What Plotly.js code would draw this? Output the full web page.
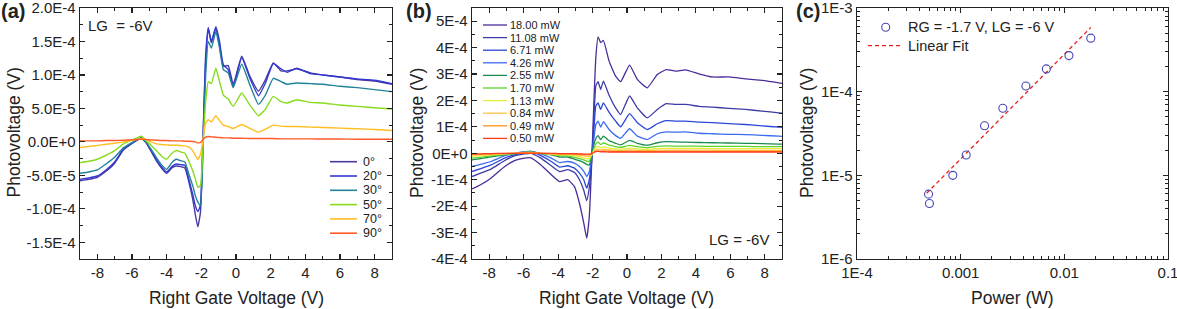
<!DOCTYPE html>
<html><head><meta charset="utf-8">
<script src="https://cdn.plot.ly/plotly-3.0.1.min.js"></script>
<style>html,body{margin:0;padding:0;background:#fff}#chart{width:1177px;height:309px}</style>
</head><body><div id="chart"></div>
<script>
// ---------------- DATA ----------------
// Panel (a): photovoltage vs right gate voltage for polarization angles (values in 1e-5 V)
const gateA = [-9, -8.5, -8, -7.5, -7, -6.5, -6, -5.7, -5.45, -5.2, -4.9, -4.6, -4.3, -4.0, -3.7, -3.45, -3.2, -2.95, -2.7, -2.5, -2.35, -2.2, -2.05, -1.95, -1.85, -1.75, -1.6, -1.42, -1.16, -0.95, -0.73, -0.45, -0.16, 0.33, 0.8, 1.3, 1.7, 2.15, 2.6, 2.95, 3.5, 4.3, 5, 6, 7, 8, 9];
const angleLabels = ['0°', '20°', '30°', '50°', '70°', '90°'];
const pv0deg  = [-5.8, -5.6, -5.3, -4.4, -3.2, -1.2, -0.25, 0.25, 0.5, -0.1, -1.4, -2.8, -3.9, -4.7, -3.9, -3.6, -3.7, -3.9, -6.2, -8.5, -10.8, -12.7, -10.5, -3, 5, 12, 16.8, 14.8, 17.0, 14.5, 11.3, 11.4, 8.6, 12.8, 9.8, 7.6, 9.3, 11.8, 10.6, 10.6, 10.9, 10.3, 10.0, 9.7, 9.3, 9.1, 8.6];
const pv20deg = [-5.6, -5.4, -5.1, -4.2, -3.0, -1.1, -0.2, 0.3, 0.6, 0.0, -1.3, -2.6, -3.7, -4.5, -3.7, -3.3, -3.4, -3.5, -5.8, -7.8, -9.5, -10.4, -9.5, -4, 5, 13, 17.1, 15.0, 17.2, 15.0, 11.5, 10.8, 8.2, 12.6, 9.5, 6.9, 8.8, 11.7, 10.9, 10.4, 11.0, 10.2, 10.0, 9.7, 9.4, 9.2, 8.7];
const pv30deg = [-4.7, -4.5, -4.2, -3.3, -2.3, -0.9, -0.1, 0.35, 0.65, 0.0, -1.1, -2.3, -3.4, -4.1, -3.1, -2.6, -2.8, -3.0, -5.0, -6.5, -8.0, -9.0, -9.5, -5, 3, 10, 15.0, 14.0, 16.5, 14.0, 10.8, 10.3, 8.1, 11.6, 8.5, 5.6, 7.0, 9.5, 9.0, 8.6, 8.8, 8.7, 8.6, 8.3, 8.1, 7.8, 7.5];
const pv50deg = [-3.1, -2.9, -2.6, -2.0, -1.3, -0.3, 0.3, 0.6, 0.85, 0.2, -0.5, -1.3, -2.1, -2.6, -1.7, -1.3, -1.5, -1.7, -3.0, -4.3, -5.5, -6.8, -6.5, -3, 2, 6, 9.0, 8.7, 11.0, 9.0, 7.0, 6.4, 5.3, 7.3, 5.5, 3.9, 4.9, 6.8, 6.0, 5.8, 6.3, 5.9, 5.8, 5.5, 5.3, 5.1, 4.9];
const pv70deg = [-0.84, -0.7, -0.55, -0.35, -0.2, 0.0, 0.25, 0.4, 0.5, 0.35, 0.0, -0.3, -0.4, -0.45, -0.5, -0.5, -0.55, -0.6, -0.8, -1.3, -2.0, -2.6, -1.8, -0.5, 1.5, 2.8, 3.3, 3.0, 3.9, 3.2, 2.5, 2.3, 2.0, 2.6, 2.0, 1.45, 1.9, 2.5, 2.35, 2.3, 2.3, 2.2, 2.15, 2.05, 1.95, 1.85, 1.7];
const pv90deg = [0.15, 0.15, 0.15, 0.2, 0.2, 0.25, 0.3, 0.35, 0.4, 0.35, 0.3, 0.25, 0.2, 0.2, 0.15, 0.15, 0.15, 0.1, 0.1, 0.05, 0.0, -0.15, -0.1, 0.2, 0.5, 0.7, 0.8, 0.75, 0.7, 0.65, 0.6, 0.6, 0.55, 0.55, 0.5, 0.5, 0.5, 0.5, 0.45, 0.45, 0.45, 0.45, 0.42, 0.42, 0.4, 0.4, 0.4];
const unitA = 1e-5;

// Panel (b): photovoltage vs right gate voltage for laser powers (values in 1e-4 V)
const gateB = [-9, -8.5, -7.9, -7.1, -6.5, -5.95, -5.57, -5.0, -4.4, -3.92, -3.44, -3.05, -2.76, -2.51, -2.34, -2.19, -2.05, -1.93, -1.81, -1.68, -1.53, -1.37, -1.04, -0.66, -0.37, 0.15, 0.6, 1.18, 1.76, 2.28, 2.82, 3.4, 4.17, 4.95, 5.91, 6.88, 7.84, 8.81, 9];
const powerLabels = ['18.00 mW', '11.08 mW', '6.71 mW', '4.26 mW', '2.55 mW', '1.70 mW', '1.13 mW', '0.84 mW', '0.49 mW', '0.50 mW'];
const pv18_00 = [-1.35, -1.19, -0.94, -0.5, -0.27, -0.18, -0.17, -0.44, -0.81, -1.07, -1.0, -1.26, -1.89, -2.64, -3.21, -2.4, -0.37, 1.8, 3.62, 4.41, 4.19, 4.27, 3.49, 2.92, 2.71, 3.34, 2.8, 2.48, 2.98, 3.17, 3.11, 3.16, 3.01, 2.89, 2.89, 2.82, 2.76, 2.67, 2.65];
const pv11_08 = [-0.88, -0.75, -0.6, -0.27, -0.09, -0.02, 0.0, -0.18, -0.47, -0.69, -0.62, -0.73, -1.0, -1.4, -1.79, -1.3, -0.3, 1.2, 2.55, 2.71, 2.42, 2.73, 2.2, 1.72, 1.47, 2.17, 1.72, 1.34, 1.66, 1.88, 1.85, 1.85, 1.78, 1.75, 1.7, 1.66, 1.6, 1.53, 1.52];
const pv6_71  = [-0.69, -0.58, -0.44, -0.18, -0.05, 0.04, 0.07, -0.09, -0.31, -0.52, -0.47, -0.56, -0.75, -1.0, -1.32, -1.0, -0.2, 0.8, 1.79, 1.91, 1.66, 1.91, 1.55, 1.22, 1.0, 1.5, 1.16, 0.9, 1.12, 1.24, 1.22, 1.22, 1.18, 1.16, 1.12, 1.09, 1.04, 0.99, 0.98];
const pv4_26  = [-0.5, -0.42, -0.31, -0.09, 0.0, 0.06, 0.07, -0.02, -0.18, -0.35, -0.31, -0.37, -0.5, -0.68, -0.88, -0.7, -0.15, 0.5, 1.09, 1.22, 0.99, 1.2, 0.9, 0.67, 0.57, 0.93, 0.65, 0.52, 0.74, 0.81, 0.8, 0.81, 0.76, 0.74, 0.72, 0.71, 0.68, 0.65, 0.64];
const pv2_55  = [-0.25, -0.2, -0.13, -0.06, -0.02, 0.03, 0.04, 0.0, -0.06, -0.14, -0.14, -0.22, -0.28, -0.35, -0.42, -0.44, -0.1, 0.3, 0.56, 0.67, 0.52, 0.65, 0.48, 0.38, 0.32, 0.49, 0.38, 0.31, 0.4, 0.44, 0.43, 0.42, 0.41, 0.4, 0.39, 0.38, 0.37, 0.35, 0.35];
const pv1_70  = [-0.18, -0.15, -0.1, -0.04, -0.01, 0.03, 0.04, 0.0, -0.04, -0.09, -0.1, -0.15, -0.2, -0.25, -0.3, -0.3, -0.08, 0.15, 0.36, 0.42, 0.33, 0.39, 0.31, 0.25, 0.22, 0.3, 0.25, 0.21, 0.26, 0.28, 0.27, 0.27, 0.27, 0.26, 0.26, 0.26, 0.25, 0.25, 0.25];
const pv1_13  = [-0.11, -0.09, -0.06, -0.02, 0.0, 0.03, 0.03, 0.0, -0.03, -0.06, -0.06, -0.09, -0.13, -0.17, -0.2, -0.2, -0.05, 0.1, 0.22, 0.26, 0.21, 0.24, 0.2, 0.17, 0.15, 0.2, 0.17, 0.15, 0.18, 0.19, 0.19, 0.19, 0.19, 0.18, 0.18, 0.18, 0.18, 0.18, 0.18];
const pv0_84  = [-0.07, -0.06, -0.04, -0.01, 0.0, 0.02, 0.02, 0.0, -0.02, -0.04, -0.04, -0.06, -0.08, -0.1, -0.12, -0.12, -0.03, 0.06, 0.13, 0.16, 0.13, 0.15, 0.13, 0.11, 0.1, 0.13, 0.11, 0.1, 0.12, 0.12, 0.12, 0.12, 0.12, 0.12, 0.11, 0.11, 0.11, 0.11, 0.11];
const pv0_49  = [-0.04, -0.03, -0.02, -0.01, 0.0, 0.01, 0.01, 0.0, -0.01, -0.02, -0.02, -0.03, -0.04, -0.05, -0.06, -0.06, -0.02, 0.04, 0.08, 0.09, 0.08, 0.09, 0.08, 0.07, 0.07, 0.08, 0.07, 0.07, 0.07, 0.08, 0.08, 0.08, 0.07, 0.07, 0.07, 0.07, 0.07, 0.07, 0.07];
const pv0_50  = [-0.02, -0.02, -0.01, 0.0, 0.0, 0.01, 0.01, 0.0, 0.0, -0.01, -0.01, -0.01, -0.02, -0.03, -0.03, -0.03, -0.01, 0.03, 0.06, 0.07, 0.06, 0.06, 0.05, 0.05, 0.05, 0.05, 0.05, 0.05, 0.05, 0.05, 0.05, 0.05, 0.05, 0.05, 0.05, 0.05, 0.05, 0.05, 0.05];
const unitB = 1e-4;

// Panel (c): photovoltage at RG = -1.7 V vs power
const powerW = [0.01800, 0.01108, 0.00671, 0.00426, 0.00255, 0.00170, 0.00113, 0.00084, 0.00049, 0.00050];
const pvPower = [4.36e-4, 2.7e-4, 1.87e-4, 1.17e-4, 6.33e-5, 3.92e-5, 1.75e-5, 1.0e-5, 5.96e-6, 4.6e-6];
const fitPowerW = [4.7e-4, 1.8e-2];
const fitPv = [6.1e-6, 5.85e-4];

// ---------------- STYLE ----------------
const W = 1177, H = 309;
const FONT = 'Liberation Sans, Arial, sans-serif';
const INK = '#222222';
const px = x => x / W, py = y => 1 - y / H;
const colorsA = ['#4a3a9e', '#3338d0', '#23829a', '#86dc1c', '#ffbe22', '#ff5a2a'];
const colorsB = ['#4b2c9a', '#3c3ca6', '#2a48d8', '#3a6af0', '#1d8a4e', '#5fd32c', '#e6ee3c', '#ffc545', '#ff8f1f', '#ff3b1e'];
const seriesA = [pv0deg, pv20deg, pv30deg, pv50deg, pv70deg, pv90deg];
const seriesB = [pv18_00, pv11_08, pv6_71, pv4_26, pv2_55, pv1_70, pv1_13, pv0_84, pv0_49, pv0_50];

const traces = [];
seriesA.forEach((s, i) => traces.push({x: gateA, y: s.map(v => v * unitA), xaxis: 'x', yaxis: 'y', mode: 'lines', line: {color: colorsA[i], width: 1.4, shape: 'spline', smoothing: 0.4}, name: angleLabels[i], showlegend: false, hoverinfo: 'skip'}));
seriesB.forEach((s, i) => traces.push({x: gateB, y: s.map(v => v * unitB), xaxis: 'x2', yaxis: 'y2', mode: 'lines', line: {color: colorsB[i], width: 1.3, shape: 'spline', smoothing: 0.4}, name: powerLabels[i], showlegend: false, hoverinfo: 'skip'}));
traces.push({x: fitPowerW, y: fitPv, xaxis: 'x3', yaxis: 'y3', mode: 'lines', line: {color: '#e52222', width: 1.3, dash: '4px,3px'}, showlegend: false, hoverinfo: 'skip'});
traces.push({x: powerW, y: pvPower, xaxis: 'x3', yaxis: 'y3', mode: 'markers', marker: {symbol: 'circle-open', size: 8, color: '#4646b4', line: {width: 1.1}}, showlegend: false, hoverinfo: 'skip'});

const hy = v => (v < 0 ? '-' : '') + Math.abs(v);
const gateTicks = [-8, -6, -4, -2, 0, 2, 4, 6, 8];
const yTicksA = [-1.5e-4, -1e-4, -5e-5, 0, 5e-5, 1e-4, 1.5e-4, 2e-4];
const yTicksB = [-4e-4, -3e-4, -2e-4, -1e-4, 0, 1e-4, 2e-4, 3e-4, 4e-4, 5e-4];
const expLabel = (v, d) => v.toExponential(d).toUpperCase();

const base = {
  showline: true, linecolor: INK, linewidth: 1.3, mirror: 'allticks', ticks: 'inside', ticklen: 5, tickwidth: 1.2, tickcolor: INK,
  showgrid: false, zeroline: false, fixedrange: true, ticklabeloverflow: 'allow', tickfont: {family: FONT, size: 15, color: INK}
};
const minorBase = {ticks: 'inside', ticklen: 3, tickwidth: 1, tickcolor: INK, showgrid: false};
const yDom = [py(259), py(8)];

const layout = {
  width: W, height: H, margin: {l: 0, r: 0, t: 0, b: 0}, paper_bgcolor: '#fff', plot_bgcolor: '#fff', showlegend: false,
  font: {family: FONT, color: INK},
  xaxis: Object.assign({}, base, {domain: [px(80), px(392)], anchor: 'y', range: [-9, 9], tickmode: 'array', tickvals: gateTicks, ticktext: gateTicks.map(hy), minor: Object.assign({}, minorBase, {tickmode: 'linear', tick0: -9, dtick: 1})}),
  yaxis: Object.assign({}, base, {domain: yDom, anchor: 'x', range: [-1.75e-4, 2.0e-4], tickmode: 'array', tickvals: yTicksA, ticktext: yTicksA.map(v => expLabel(v, 1)), minor: Object.assign({}, minorBase, {tickmode: 'linear', tick0: 0, dtick: 2.5e-5})}),
  xaxis2: Object.assign({}, base, {domain: [px(472), px(782)], anchor: 'y2', range: [-9, 9], tickmode: 'array', tickvals: gateTicks, ticktext: gateTicks.map(hy), minor: Object.assign({}, minorBase, {tickmode: 'linear', tick0: -9, dtick: 1})}),
  yaxis2: Object.assign({}, base, {domain: yDom, anchor: 'x2', range: [-4e-4, 5.5e-4], tickmode: 'array', tickvals: yTicksB, ticktext: yTicksB.map(v => expLabel(v, 0)), minor: Object.assign({}, minorBase, {tickmode: 'linear', tick0: 0, dtick: 5e-5})}),
  xaxis3: Object.assign({}, base, {domain: [px(857), px(1168)], anchor: 'y3', type: 'log', range: [-4, -1], tickmode: 'array', tickvals: [1e-4, 1e-3, 1e-2, 1e-1], ticktext: ['1E-4', '0.001', '0.01', '0.1'], minor: Object.assign({}, minorBase, {dtick: 'D1'})}),
  yaxis3: Object.assign({}, base, {domain: yDom, anchor: 'x3', type: 'log', range: [-6, -3], tickmode: 'array', tickvals: [1e-6, 1e-5, 1e-4, 1e-3], ticktext: ['1E-6', '1E-5', '1E-4', '1E-3'], minor: Object.assign({}, minorBase, {dtick: 'D1'})}),
  annotations: [], shapes: []
};

const ann = (text, x, y, o) => layout.annotations.push(Object.assign({text, x: px(x), y: py(y), xref: 'paper', yref: 'paper', showarrow: false, xanchor: 'left', yanchor: 'middle', font: {family: FONT, size: 15, color: INK}}, o || {}));

// panel labels
ann('<b>(a)</b>', -1, 11, {font: {family: FONT, size: 20, color: INK}});
ann('<b>(b)</b>', 404, 11, {font: {family: FONT, size: 20, color: INK}});
ann('<b>(c)</b>', 794, 11, {font: {family: FONT, size: 20, color: INK}});
// axis titles
const tf = {family: FONT, size: 17.5, color: INK};
ann('Right Gate Voltage (V)', 236, 298, {xanchor: 'center', font: tf});
ann('Right Gate Voltage (V)', 627, 298, {xanchor: 'center', font: tf});
ann('Power (W)', 1012, 298, {xanchor: 'center', font: tf});
ann('Photovoltage (V)', 13.5, 133, {xanchor: 'center', textangle: -90, font: tf});
ann('Photovoltage (V)', 417, 133, {xanchor: 'center', textangle: -90, font: tf});
ann('Photovoltage (V)', 807, 133, {xanchor: 'center', textangle: -90, font: tf});
// in-plot notes
ann('LG \u00a0= -6V', 86, 25);
ann('LG = -6V', 771, 239.5, {xanchor: 'right'});

// manual legends
const lineSeg = (x0, x1, y, color, w, dash) => layout.shapes.push({type: 'line', xref: 'paper', yref: 'paper', x0: px(x0), x1: px(x1), y0: py(y), y1: py(y), line: {color, width: w, dash: dash || 'solid'}});
angleLabels.forEach((t, i) => { const y = 161.7 + i * 14.3; lineSeg(330, 357, y, colorsA[i], 1.6); ann(t, 361, y, {font: {family: FONT, size: 12.5, color: INK}}); });
powerLabels.forEach((t, i) => { const y = 25 + i * 12.6; lineSeg(483, 507, y, colorsB[i], 1.3); ann(t, 508, y, {font: {family: FONT, size: 11, color: INK}}); });
layout.shapes.push({type: 'circle', xref: 'paper', yref: 'paper', xsizemode: 'pixel', ysizemode: 'pixel', xanchor: px(885.7), yanchor: py(27.3), x0: -4, x1: 4, y0: -4, y1: 4, line: {color: '#4646b4', width: 1.1}});
ann('RG = -1.7 V, LG = -6 V', 906, 27.3, {font: {family: FONT, size: 14.5, color: INK}});
lineSeg(868, 903, 45.7, '#e52222', 1.3, '4px,3px');
ann('Linear Fit', 906, 45.7, {font: {family: FONT, size: 14.5, color: INK}});

Plotly.newPlot('chart', traces, layout, {staticPlot: true, displayModeBar: false});
</script></body></html>
